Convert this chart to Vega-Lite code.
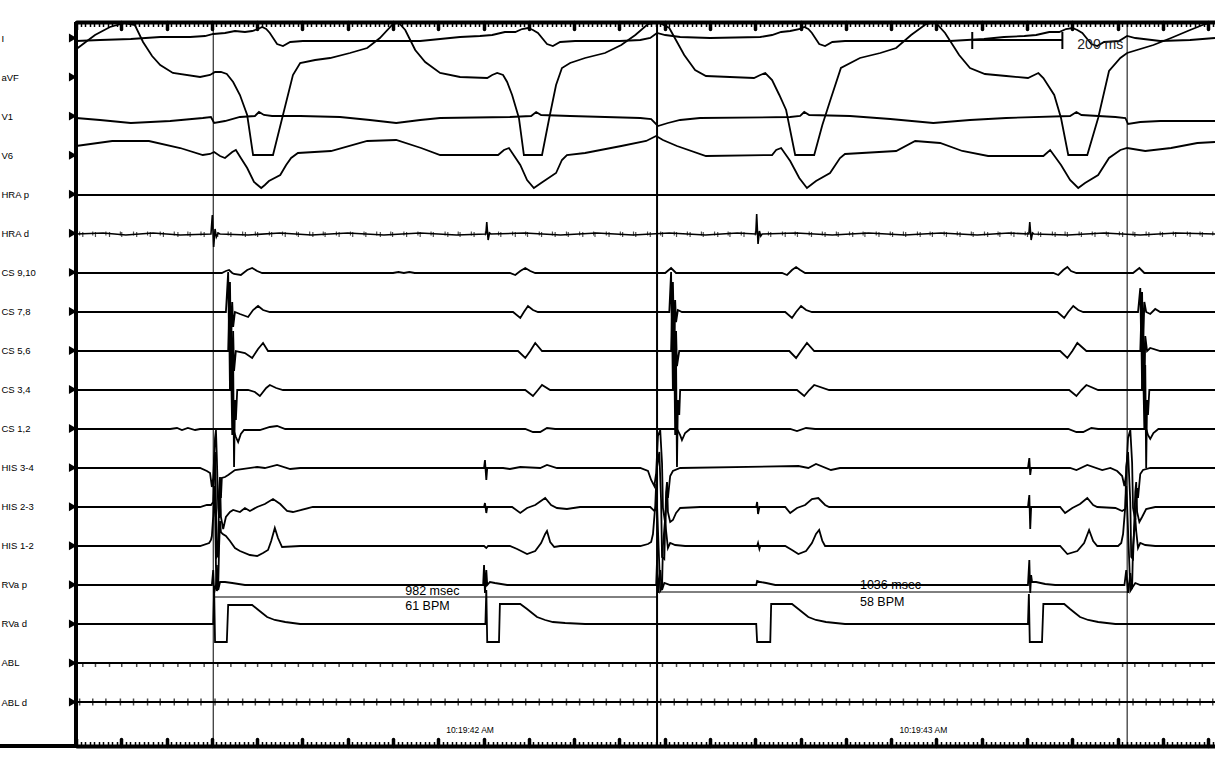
{
"$schema":"https://vega.github.io/schema/vega-lite/v6.json",
"width":1139,"height":724,
"autosize":{"type":"none"},
"padding":{"left":76,"top":22,"right":0,"bottom":22},
"background":"white",
"config":{"view":{"stroke":null},"line":{"color":"black","strokeWidth":1.8},"text":{"font":"Liberation Sans","color":"black"},"tick":{"color":"black"}},
"datasets":{
"spkA":[{"t":15},{"t":43},{"t":74},{"t":101},{"t":134},{"t":164},{"t":193},{"t":225},{"t":252},{"t":283},{"t":313},{"t":342},{"t":374},{"t":401},{"t":432},{"t":462},{"t":491},{"t":523},{"t":550},{"t":581},{"t":611},{"t":640},{"t":672},{"t":699},{"t":730},{"t":760},{"t":789},{"t":821},{"t":848},{"t":879},{"t":909},{"t":938},{"t":970},{"t":997},{"t":1028},{"t":1058},{"t":1087},{"t":1119},{"t":1146},{"t":1177},{"t":1207},{"t":1236},{"t":1268},{"t":1295},{"t":1326},{"t":1356},{"t":1385},{"t":1417},{"t":1444},{"t":1475},{"t":1505},{"t":1534},{"t":1566},{"t":1593},{"t":1624},{"t":1654},{"t":1683},{"t":1715},{"t":1742},{"t":1773},{"t":1803},{"t":1832},{"t":1864},{"t":1891},{"t":1922},{"t":1952},{"t":1981},{"t":2013},{"t":2040},{"t":2071},{"t":2101},{"t":2130},{"t":2162},{"t":2189},{"t":2220},{"t":2250},{"t":2279},{"t":2311},{"t":2338},{"t":2369},{"t":2399},{"t":2428},{"t":2460},{"t":2487}],
"spkB":[{"t":8},{"t":37},{"t":66},{"t":98},{"t":127},{"t":158},{"t":186},{"t":217},{"t":247},{"t":276},{"t":307},{"t":336},{"t":368},{"t":396},{"t":427},{"t":456},{"t":487},{"t":516},{"t":546},{"t":575},{"t":606},{"t":636},{"t":664},{"t":695},{"t":724},{"t":755},{"t":784},{"t":815},{"t":844},{"t":873},{"t":904},{"t":933},{"t":964},{"t":993},{"t":1023},{"t":1052},{"t":1083},{"t":1112},{"t":1143},{"t":1171},{"t":1202},{"t":1231},{"t":1262},{"t":1291},{"t":1321},{"t":1350},{"t":1381},{"t":1410},{"t":1440},{"t":1469},{"t":1500},{"t":1529},{"t":1560},{"t":1588},{"t":1619},{"t":1648},{"t":1679},{"t":1708},{"t":1738},{"t":1767},{"t":1798},{"t":1827},{"t":1858},{"t":1886},{"t":1917},{"t":1946},{"t":1977},{"t":2006},{"t":2036},{"t":2065},{"t":2096},{"t":2125},{"t":2156},{"t":2184},{"t":2215},{"t":2244},{"t":2275},{"t":2304},{"t":2334},{"t":2363},{"t":2394},{"t":2423},{"t":2454},{"t":2482},{"t":2510}]
},
"encoding":{"x":{"field":"t","type":"quantitative","scale":{"domain":[0,2515],"nice":false,"zero":false},"axis":null}},
"resolve":{"scale":{"y":"independent"},"axis":{"x":"independent"}},
"layer":[
{"data":{"values":[{"t":0,"a":-3},{"t":53,"a":-2},{"t":121,"a":-1},{"t":186,"a":1},{"t":252,"a":1},{"t":285,"a":2},{"t":303,"a":4},{"t":329,"a":5},{"t":351,"a":7},{"t":373,"a":6},{"t":389,"a":7},{"t":402,"a":9},{"t":411,"a":11},{"t":420,"a":9},{"t":428,"a":5},{"t":444,"a":-6},{"t":457,"a":-8},{"t":473,"a":-4},{"t":501,"a":-3},{"t":605,"a":-3},{"t":760,"a":-3},{"t":804,"a":-1},{"t":848,"a":1},{"t":892,"a":2},{"t":919,"a":3},{"t":947,"a":6},{"t":970,"a":6},{"t":985,"a":9},{"t":998,"a":10},{"t":1009,"a":8},{"t":1020,"a":5},{"t":1040,"a":-6},{"t":1053,"a":-8},{"t":1069,"a":-4},{"t":1102,"a":-3},{"t":1201,"a":-3},{"t":1246,"a":-2},{"t":1268,"a":0},{"t":1283,"a":5},{"t":1301,"a":3},{"t":1334,"a":1},{"t":1400,"a":0},{"t":1511,"a":1},{"t":1537,"a":3},{"t":1557,"a":6},{"t":1577,"a":7},{"t":1599,"a":9},{"t":1608,"a":11},{"t":1617,"a":9},{"t":1625,"a":5},{"t":1641,"a":-6},{"t":1654,"a":-8},{"t":1670,"a":-4},{"t":1698,"a":-3},{"t":1820,"a":-3},{"t":1930,"a":-3},{"t":2005,"a":-1},{"t":2049,"a":1},{"t":2094,"a":2},{"t":2120,"a":3},{"t":2149,"a":6},{"t":2171,"a":6},{"t":2186,"a":9},{"t":2200,"a":10},{"t":2211,"a":8},{"t":2222,"a":5},{"t":2242,"a":-6},{"t":2255,"a":-8},{"t":2270,"a":-4},{"t":2303,"a":-3},{"t":2321,"a":2},{"t":2339,"a":0},{"t":2394,"a":-3},{"t":2460,"a":-2},{"t":2515,"a":0}]},
"mark":{"type":"line"},
"encoding":{"x":{"field":"t","type":"quantitative","scale":{"domain":[0,2515],"nice":false,"zero":false},"axis":{"orient":"top","tickCount":25,"labels":false,"title":null,"grid":false,"domainWidth":4,"domainColor":"black","tickSize":-7,"tickWidth":3.5,"tickColor":"black","tickCap":"round"}},
"y":{"field":"a","type":"quantitative","scale":{"domain":[-708,16],"nice":false,"zero":false},"axis":null}}},
{"data":{"values":[{"t":0,"a":27},{"t":4,"a":29},{"t":42,"a":42},{"t":75,"a":50},{"t":108,"a":54},{"t":130,"a":52},{"t":148,"a":35},{"t":168,"a":21},{"t":186,"a":12},{"t":214,"a":4},{"t":274,"a":0},{"t":296,"a":2},{"t":307,"a":5},{"t":320,"a":5},{"t":333,"a":3},{"t":347,"a":-5},{"t":362,"a":-18},{"t":378,"a":-38},{"t":391,"a":-78},{"t":435,"a":-78},{"t":457,"a":-38},{"t":479,"a":2},{"t":495,"a":14},{"t":528,"a":17},{"t":561,"a":19},{"t":605,"a":24},{"t":643,"a":29},{"t":671,"a":39},{"t":698,"a":52},{"t":711,"a":55},{"t":727,"a":47},{"t":749,"a":27},{"t":771,"a":15},{"t":804,"a":4},{"t":848,"a":0},{"t":908,"a":-1},{"t":919,"a":2},{"t":930,"a":4},{"t":943,"a":2},{"t":952,"a":-5},{"t":963,"a":-18},{"t":978,"a":-41},{"t":989,"a":-78},{"t":1029,"a":-78},{"t":1045,"a":-41},{"t":1060,"a":-8},{"t":1073,"a":9},{"t":1091,"a":14},{"t":1124,"a":19},{"t":1168,"a":24},{"t":1204,"a":32},{"t":1235,"a":42},{"t":1263,"a":53},{"t":1285,"a":55},{"t":1310,"a":49},{"t":1343,"a":22},{"t":1367,"a":7},{"t":1391,"a":1},{"t":1497,"a":-1},{"t":1511,"a":2},{"t":1522,"a":4},{"t":1537,"a":-3},{"t":1553,"a":-18},{"t":1568,"a":-33},{"t":1588,"a":-78},{"t":1630,"a":-78},{"t":1648,"a":-48},{"t":1665,"a":-24},{"t":1689,"a":9},{"t":1731,"a":19},{"t":1776,"a":24},{"t":1811,"a":29},{"t":1844,"a":42},{"t":1877,"a":53},{"t":1897,"a":55},{"t":1919,"a":44},{"t":1950,"a":22},{"t":1974,"a":9},{"t":2007,"a":3},{"t":2054,"a":1},{"t":2102,"a":-1},{"t":2116,"a":2},{"t":2125,"a":4},{"t":2136,"a":-1},{"t":2160,"a":-18},{"t":2175,"a":-41},{"t":2191,"a":-78},{"t":2233,"a":-78},{"t":2257,"a":-41},{"t":2281,"a":6},{"t":2306,"a":19},{"t":2321,"a":24},{"t":2379,"a":32},{"t":2418,"a":39},{"t":2460,"a":47},{"t":2493,"a":53},{"t":2515,"a":55}]},
"mark":{"type":"line"},
"encoding":{"x":{"field":"t","type":"quantitative","scale":{"domain":[0,2515],"nice":false,"zero":false},"axis":{"orient":"top","tickCount":250,"labels":false,"title":null,"grid":false,"domain":false,"tickSize":-4.5,"tickWidth":1.5,"tickColor":"black"}},
"y":{"field":"a","type":"quantitative","scale":{"domain":[-669,55],"nice":false,"zero":false},"axis":null}}},
{"data":{"values":[{"t":0,"a":-2},{"t":53,"a":-4},{"t":121,"a":-7},{"t":208,"a":-5},{"t":280,"a":-2},{"t":298,"a":-1},{"t":305,"a":-7},{"t":329,"a":-5},{"t":362,"a":-1},{"t":395,"a":0},{"t":404,"a":4},{"t":415,"a":1},{"t":433,"a":0},{"t":495,"a":0},{"t":583,"a":-1},{"t":649,"a":-4},{"t":707,"a":-7},{"t":760,"a":-4},{"t":804,"a":-2},{"t":958,"a":-1},{"t":1005,"a":0},{"t":1016,"a":4},{"t":1027,"a":1},{"t":1091,"a":0},{"t":1246,"a":-2},{"t":1270,"a":-3},{"t":1285,"a":-10},{"t":1307,"a":-7},{"t":1334,"a":-4},{"t":1378,"a":-2},{"t":1577,"a":-1},{"t":1599,"a":0},{"t":1608,"a":4},{"t":1619,"a":1},{"t":1709,"a":0},{"t":1798,"a":-3},{"t":1893,"a":-7},{"t":1974,"a":-4},{"t":2054,"a":-2},{"t":2195,"a":0},{"t":2209,"a":4},{"t":2220,"a":1},{"t":2295,"a":-1},{"t":2317,"a":-2},{"t":2323,"a":-8},{"t":2350,"a":-6},{"t":2394,"a":-5},{"t":2515,"a":-5}]},
"mark":{"type":"line"},
"encoding":{"x":{"field":"t","type":"quantitative","scale":{"domain":[0,2515],"nice":false,"zero":false},"axis":{"orient":"bottom","tickCount":25,"labels":false,"title":null,"grid":false,"domainWidth":4,"domainColor":"black","tickSize":-7,"tickWidth":3.5,"tickColor":"black","tickCap":"round"}},
"y":{"field":"a","type":"quantitative","scale":{"domain":[-630,94],"nice":false,"zero":false},"axis":null}}},
{"data":{"values":[{"t":0,"a":10},{"t":80,"a":15},{"t":161,"a":15},{"t":230,"a":8},{"t":280,"a":1},{"t":296,"a":2},{"t":305,"a":4},{"t":318,"a":0},{"t":329,"a":-2},{"t":345,"a":4},{"t":353,"a":6},{"t":364,"a":-2},{"t":378,"a":-12},{"t":393,"a":-26},{"t":409,"a":-32},{"t":417,"a":-29},{"t":426,"a":-25},{"t":451,"a":-19},{"t":464,"a":-9},{"t":475,"a":-2},{"t":490,"a":3},{"t":563,"a":5},{"t":643,"a":15},{"t":707,"a":16},{"t":762,"a":8},{"t":804,"a":1},{"t":932,"a":1},{"t":945,"a":6},{"t":956,"a":8},{"t":981,"a":-9},{"t":996,"a":-24},{"t":1011,"a":-32},{"t":1027,"a":-27},{"t":1060,"a":-17},{"t":1073,"a":-4},{"t":1084,"a":1},{"t":1124,"a":3},{"t":1204,"a":10},{"t":1259,"a":15},{"t":1281,"a":20},{"t":1296,"a":16},{"t":1327,"a":10},{"t":1391,"a":0},{"t":1537,"a":1},{"t":1546,"a":6},{"t":1557,"a":8},{"t":1577,"a":-5},{"t":1597,"a":-22},{"t":1614,"a":-32},{"t":1634,"a":-25},{"t":1665,"a":-17},{"t":1687,"a":-2},{"t":1698,"a":2},{"t":1811,"a":5},{"t":1853,"a":15},{"t":1908,"a":13},{"t":1957,"a":5},{"t":2014,"a":0},{"t":2136,"a":0},{"t":2151,"a":6},{"t":2175,"a":-9},{"t":2195,"a":-24},{"t":2213,"a":-32},{"t":2228,"a":-27},{"t":2257,"a":-19},{"t":2281,"a":-2},{"t":2306,"a":6},{"t":2321,"a":8},{"t":2361,"a":5},{"t":2418,"a":8},{"t":2476,"a":13},{"t":2515,"a":14}]},
"mark":{"type":"line"},
"encoding":{"x":{"field":"t","type":"quantitative","scale":{"domain":[0,2515],"nice":false,"zero":false},"axis":{"orient":"bottom","tickCount":250,"labels":false,"title":null,"grid":false,"domain":false,"tickSize":-4.5,"tickWidth":1.5,"tickColor":"black"}},
"y":{"field":"a","type":"quantitative","scale":{"domain":[-590,134],"nice":false,"zero":false},"axis":null}}},
{"data":{"values":[{"t":0,"a":0},{"t":2515,"a":0}]},"mark":{"type":"line"},
"encoding":{"y":{"field":"a","type":"quantitative","scale":{"domain":[-551,173],"nice":false,"zero":false},"axis":null}}},
{"data":{"values":[{"t":0,"a":0},{"t":60,"a":1},{"t":110,"a":-1},{"t":170,"a":1},{"t":230,"a":-1},{"t":298,"a":0},{"t":301,"a":19},{"t":304,"a":-13},{"t":307,"a":5},{"t":310,"a":-3},{"t":314,"a":1},{"t":318,"a":0},{"t":380,"a":-1},{"t":450,"a":1},{"t":520,"a":-1},{"t":600,"a":1},{"t":680,"a":-1},{"t":760,"a":1},{"t":840,"a":-1},{"t":905,"a":0},{"t":907,"a":12},{"t":910,"a":-6},{"t":913,"a":1},{"t":916,"a":0},{"t":990,"a":1},{"t":1070,"a":-1},{"t":1150,"a":1},{"t":1230,"a":-1},{"t":1310,"a":1},{"t":1390,"a":-1},{"t":1460,"a":1},{"t":1501,"a":0},{"t":1503,"a":20},{"t":1506,"a":-10},{"t":1509,"a":3},{"t":1512,"a":-2},{"t":1515,"a":0},{"t":1590,"a":1},{"t":1670,"a":-1},{"t":1750,"a":1},{"t":1830,"a":-1},{"t":1910,"a":1},{"t":1990,"a":-1},{"t":2060,"a":1},{"t":2104,"a":0},{"t":2106,"a":12},{"t":2109,"a":-6},{"t":2112,"a":1},{"t":2115,"a":0},{"t":2190,"a":-1},{"t":2270,"a":1},{"t":2350,"a":-1},{"t":2430,"a":1},{"t":2515,"a":0}]},
"mark":{"type":"line","strokeWidth":1.6},
"encoding":{"y":{"field":"a","type":"quantitative","scale":{"domain":[-512,212],"nice":false,"zero":false},"axis":null}}},
{"data":{"name":"spkA"},"mark":{"type":"tick","orient":"vertical","size":5,"thickness":1.2},
"encoding":{"y":{"datum":-0.5,"type":"quantitative","scale":{"domain":[-512,212],"nice":false,"zero":false},"axis":null}}},
{"data":{"name":"spkB"},"mark":{"type":"tick","orient":"vertical","size":4,"thickness":1.2},
"encoding":{"y":{"datum":0.5,"type":"quantitative","scale":{"domain":[-512,212],"nice":false,"zero":false},"axis":null}}},
{"data":{"values":[{"t":0,"a":0},{"t":322,"a":0},{"t":331,"a":2},{"t":338,"a":3},{"t":345,"a":0},{"t":349,"a":-1},{"t":364,"a":-2},{"t":378,"a":3},{"t":389,"a":5},{"t":400,"a":2},{"t":411,"a":0},{"t":700,"a":0},{"t":712,"a":1},{"t":724,"a":0},{"t":736,"a":1},{"t":748,"a":0},{"t":958,"a":0},{"t":970,"a":-2},{"t":981,"a":2},{"t":992,"a":5},{"t":1003,"a":2},{"t":1014,"a":0},{"t":1301,"a":0},{"t":1314,"a":5},{"t":1325,"a":0},{"t":1559,"a":0},{"t":1570,"a":-2},{"t":1581,"a":3},{"t":1590,"a":6},{"t":1599,"a":3},{"t":1610,"a":0},{"t":2158,"a":0},{"t":2169,"a":-2},{"t":2180,"a":3},{"t":2189,"a":6},{"t":2197,"a":2},{"t":2209,"a":0},{"t":2334,"a":0},{"t":2348,"a":5},{"t":2359,"a":0},{"t":2515,"a":0}]},
"mark":{"type":"line"},
"encoding":{"y":{"field":"a","type":"quantitative","scale":{"domain":[-473,251],"nice":false,"zero":false},"axis":null}}},
{"data":{"values":[{"t":0,"a":0},{"t":331,"a":0},{"t":336,"a":40},{"t":338,"a":-30},{"t":340,"a":30},{"t":342,"a":-38},{"t":345,"a":10},{"t":347,"a":-15},{"t":351,"a":0},{"t":362,"a":-2},{"t":380,"a":-5},{"t":391,"a":2},{"t":402,"a":6},{"t":413,"a":2},{"t":428,"a":0},{"t":965,"a":0},{"t":981,"a":-6},{"t":989,"a":0},{"t":998,"a":6},{"t":1009,"a":2},{"t":1020,"a":0},{"t":1310,"a":0},{"t":1314,"a":40},{"t":1316,"a":-32},{"t":1318,"a":30},{"t":1321,"a":-38},{"t":1323,"a":12},{"t":1325,"a":-10},{"t":1329,"a":2},{"t":1338,"a":0},{"t":1566,"a":0},{"t":1581,"a":-6},{"t":1590,"a":0},{"t":1601,"a":6},{"t":1612,"a":2},{"t":1625,"a":0},{"t":2167,"a":0},{"t":2182,"a":-6},{"t":2191,"a":0},{"t":2202,"a":6},{"t":2213,"a":2},{"t":2224,"a":0},{"t":2345,"a":0},{"t":2350,"a":24},{"t":2352,"a":-30},{"t":2354,"a":20},{"t":2356,"a":-38},{"t":2359,"a":10},{"t":2363,"a":0},{"t":2372,"a":-2},{"t":2383,"a":3},{"t":2394,"a":0},{"t":2515,"a":0}]},
"mark":{"type":"line"},
"encoding":{"y":{"field":"a","type":"quantitative","scale":{"domain":[-434,290],"nice":false,"zero":false},"axis":null}}},
{"data":{"values":[{"t":0,"a":0},{"t":336,"a":0},{"t":338,"a":38},{"t":340,"a":-40},{"t":342,"a":35},{"t":345,"a":-48},{"t":347,"a":20},{"t":349,"a":-20},{"t":353,"a":0},{"t":373,"a":-2},{"t":389,"a":-7},{"t":402,"a":2},{"t":413,"a":8},{"t":424,"a":0},{"t":976,"a":0},{"t":992,"a":-7},{"t":1003,"a":0},{"t":1014,"a":8},{"t":1029,"a":0},{"t":1314,"a":0},{"t":1316,"a":38},{"t":1318,"a":-40},{"t":1321,"a":35},{"t":1323,"a":-48},{"t":1325,"a":20},{"t":1327,"a":-15},{"t":1332,"a":0},{"t":1575,"a":0},{"t":1590,"a":-7},{"t":1601,"a":0},{"t":1614,"a":8},{"t":1630,"a":0},{"t":2173,"a":0},{"t":2189,"a":-7},{"t":2200,"a":0},{"t":2211,"a":8},{"t":2231,"a":0},{"t":2350,"a":0},{"t":2352,"a":30},{"t":2354,"a":-38},{"t":2356,"a":28},{"t":2359,"a":-48},{"t":2361,"a":15},{"t":2365,"a":0},{"t":2372,"a":3},{"t":2394,"a":0},{"t":2515,"a":0}]},
"mark":{"type":"line"},
"encoding":{"y":{"field":"a","type":"quantitative","scale":{"domain":[-395,329],"nice":false,"zero":false},"axis":null}}},
{"data":{"values":[{"t":0,"a":0},{"t":340,"a":0},{"t":342,"a":40},{"t":345,"a":-45},{"t":347,"a":30},{"t":349,"a":-77},{"t":351,"a":-10},{"t":353,"a":-30},{"t":356,"a":0},{"t":380,"a":0},{"t":395,"a":-2},{"t":406,"a":-6},{"t":420,"a":2},{"t":428,"a":5},{"t":442,"a":2},{"t":457,"a":0},{"t":992,"a":0},{"t":1009,"a":-6},{"t":1020,"a":0},{"t":1029,"a":5},{"t":1047,"a":0},{"t":1318,"a":0},{"t":1321,"a":40},{"t":1323,"a":-45},{"t":1325,"a":30},{"t":1327,"a":-77},{"t":1329,"a":-10},{"t":1332,"a":-25},{"t":1334,"a":0},{"t":1592,"a":0},{"t":1608,"a":-6},{"t":1619,"a":0},{"t":1630,"a":5},{"t":1663,"a":0},{"t":2193,"a":0},{"t":2209,"a":-6},{"t":2220,"a":0},{"t":2231,"a":5},{"t":2257,"a":0},{"t":2354,"a":0},{"t":2356,"a":30},{"t":2359,"a":-40},{"t":2361,"a":25},{"t":2363,"a":-78},{"t":2365,"a":-10},{"t":2367,"a":-25},{"t":2370,"a":0},{"t":2515,"a":0}]},
"mark":{"type":"line"},
"encoding":{"y":{"field":"a","type":"quantitative","scale":{"domain":[-356,368],"nice":false,"zero":false},"axis":null}}},
{"data":{"values":[{"t":0,"a":0},{"t":208,"a":0},{"t":223,"a":1},{"t":234,"a":-1},{"t":247,"a":1},{"t":263,"a":-1},{"t":274,"a":0},{"t":347,"a":0},{"t":353,"a":-8},{"t":358,"a":-13},{"t":364,"a":-5},{"t":371,"a":-1},{"t":406,"a":-1},{"t":428,"a":2},{"t":444,"a":3},{"t":462,"a":0},{"t":992,"a":0},{"t":1009,"a":-3},{"t":1025,"a":-3},{"t":1040,"a":1},{"t":1058,"a":0},{"t":1327,"a":0},{"t":1334,"a":-6},{"t":1338,"a":-11},{"t":1345,"a":-4},{"t":1356,"a":0},{"t":1577,"a":0},{"t":1592,"a":-2},{"t":1612,"a":1},{"t":1632,"a":0},{"t":2191,"a":0},{"t":2209,"a":-3},{"t":2224,"a":-3},{"t":2242,"a":1},{"t":2257,"a":0},{"t":2363,"a":0},{"t":2367,"a":-6},{"t":2372,"a":-10},{"t":2379,"a":-4},{"t":2390,"a":0},{"t":2515,"a":0}]},
"mark":{"type":"line"},
"encoding":{"y":{"field":"a","type":"quantitative","scale":{"domain":[-317,407],"nice":false,"zero":false},"axis":null}}},
{"data":{"values":[{"t":0,"a":0},{"t":274,"a":0},{"t":289,"a":-3},{"t":296,"a":-5},{"t":300,"a":-19},{"t":303,"a":-10},{"t":307,"a":30},{"t":309,"a":38},{"t":311,"a":10},{"t":314,"a":-40},{"t":316,"a":-50},{"t":318,"a":-15},{"t":320,"a":-30},{"t":322,"a":-10},{"t":329,"a":-9},{"t":336,"a":-7},{"t":351,"a":-2},{"t":400,"a":1},{"t":417,"a":0},{"t":444,"a":3},{"t":473,"a":-1},{"t":495,"a":0},{"t":901,"a":0},{"t":903,"a":8},{"t":906,"a":-12},{"t":908,"a":0},{"t":943,"a":0},{"t":958,"a":-1},{"t":981,"a":1},{"t":1025,"a":0},{"t":1040,"a":3},{"t":1062,"a":0},{"t":1246,"a":0},{"t":1263,"a":-3},{"t":1270,"a":-12},{"t":1277,"a":-18},{"t":1281,"a":-5},{"t":1285,"a":32},{"t":1290,"a":38},{"t":1294,"a":5},{"t":1296,"a":-40},{"t":1301,"a":-55},{"t":1305,"a":-20},{"t":1307,"a":-30},{"t":1312,"a":-8},{"t":1318,"a":-3},{"t":1334,"a":0},{"t":1595,"a":2},{"t":1617,"a":0},{"t":1634,"a":4},{"t":1667,"a":-2},{"t":1687,"a":0},{"t":2102,"a":0},{"t":2105,"a":10},{"t":2107,"a":-7},{"t":2109,"a":0},{"t":2195,"a":0},{"t":2209,"a":-2},{"t":2233,"a":3},{"t":2266,"a":-2},{"t":2284,"a":0},{"t":2299,"a":-3},{"t":2310,"a":-8},{"t":2315,"a":-18},{"t":2319,"a":-6},{"t":2323,"a":30},{"t":2328,"a":38},{"t":2332,"a":5},{"t":2334,"a":-40},{"t":2339,"a":-52},{"t":2343,"a":-20},{"t":2345,"a":-30},{"t":2350,"a":-6},{"t":2356,"a":-2},{"t":2372,"a":0},{"t":2515,"a":0}]},
"mark":{"type":"line"},
"encoding":{"y":{"field":"a","type":"quantitative","scale":{"domain":[-278,446],"nice":false,"zero":false},"axis":null}}},
{"data":{"values":[{"t":0,"a":0},{"t":274,"a":0},{"t":289,"a":2},{"t":298,"a":2},{"t":303,"a":5},{"t":305,"a":45},{"t":307,"a":55},{"t":309,"a":5},{"t":311,"a":-50},{"t":314,"a":-48},{"t":316,"a":15},{"t":318,"a":30},{"t":320,"a":-10},{"t":325,"a":-22},{"t":331,"a":-10},{"t":340,"a":-5},{"t":347,"a":-3},{"t":362,"a":-5},{"t":373,"a":-1},{"t":384,"a":-4},{"t":400,"a":0},{"t":417,"a":3},{"t":435,"a":8},{"t":451,"a":3},{"t":466,"a":-4},{"t":479,"a":-5},{"t":523,"a":0},{"t":901,"a":0},{"t":903,"a":4},{"t":906,"a":-6},{"t":908,"a":0},{"t":963,"a":0},{"t":981,"a":-6},{"t":996,"a":-1},{"t":1014,"a":2},{"t":1036,"a":9},{"t":1049,"a":2},{"t":1062,"a":-1},{"t":1084,"a":-2},{"t":1113,"a":0},{"t":1268,"a":0},{"t":1277,"a":-4},{"t":1281,"a":-2},{"t":1283,"a":40},{"t":1288,"a":55},{"t":1292,"a":5},{"t":1294,"a":-50},{"t":1299,"a":-52},{"t":1303,"a":15},{"t":1305,"a":25},{"t":1307,"a":-5},{"t":1312,"a":-15},{"t":1318,"a":-13},{"t":1325,"a":-6},{"t":1334,"a":-1},{"t":1378,"a":0},{"t":1502,"a":0},{"t":1504,"a":5},{"t":1506,"a":-7},{"t":1509,"a":0},{"t":1566,"a":0},{"t":1577,"a":-6},{"t":1592,"a":-1},{"t":1610,"a":2},{"t":1625,"a":8},{"t":1639,"a":9},{"t":1654,"a":2},{"t":1663,"a":0},{"t":2102,"a":0},{"t":2105,"a":12},{"t":2107,"a":-22},{"t":2109,"a":0},{"t":2173,"a":0},{"t":2184,"a":-6},{"t":2200,"a":-1},{"t":2217,"a":3},{"t":2233,"a":9},{"t":2246,"a":2},{"t":2255,"a":0},{"t":2295,"a":-1},{"t":2310,"a":-4},{"t":2317,"a":-2},{"t":2319,"a":40},{"t":2323,"a":55},{"t":2328,"a":5},{"t":2330,"a":-50},{"t":2334,"a":-52},{"t":2339,"a":15},{"t":2341,"a":25},{"t":2343,"a":-5},{"t":2348,"a":-15},{"t":2354,"a":-10},{"t":2363,"a":-2},{"t":2383,"a":0},{"t":2515,"a":0}]},
"mark":{"type":"line"},
"encoding":{"y":{"field":"a","type":"quantitative","scale":{"domain":[-239,485],"nice":false,"zero":false},"axis":null}}},
{"data":{"values":[{"t":0,"a":0},{"t":274,"a":0},{"t":294,"a":3},{"t":298,"a":6},{"t":300,"a":10},{"t":303,"a":30},{"t":305,"a":60},{"t":307,"a":40},{"t":309,"a":-20},{"t":311,"a":-45},{"t":314,"a":-40},{"t":316,"a":0},{"t":318,"a":25},{"t":320,"a":14},{"t":324,"a":12},{"t":331,"a":10},{"t":340,"a":5},{"t":351,"a":-2},{"t":362,"a":-5},{"t":384,"a":-9},{"t":400,"a":-10},{"t":413,"a":-7},{"t":424,"a":-4},{"t":431,"a":5},{"t":439,"a":18},{"t":446,"a":8},{"t":455,"a":-1},{"t":495,"a":0},{"t":901,"a":0},{"t":906,"a":-2},{"t":910,"a":0},{"t":958,"a":0},{"t":974,"a":-3},{"t":996,"a":-8},{"t":1014,"a":-5},{"t":1027,"a":3},{"t":1036,"a":12},{"t":1040,"a":15},{"t":1047,"a":4},{"t":1056,"a":-1},{"t":1069,"a":0},{"t":1246,"a":0},{"t":1263,"a":2},{"t":1270,"a":4},{"t":1274,"a":12},{"t":1279,"a":40},{"t":1281,"a":62},{"t":1283,"a":40},{"t":1288,"a":-20},{"t":1290,"a":-45},{"t":1294,"a":-42},{"t":1296,"a":0},{"t":1301,"a":28},{"t":1303,"a":15},{"t":1307,"a":-2},{"t":1312,"a":3},{"t":1323,"a":1},{"t":1345,"a":0},{"t":1504,"a":0},{"t":1506,"a":3},{"t":1509,"a":-3},{"t":1511,"a":0},{"t":1566,"a":0},{"t":1581,"a":-4},{"t":1595,"a":-8},{"t":1612,"a":-5},{"t":1625,"a":3},{"t":1634,"a":12},{"t":1641,"a":16},{"t":1648,"a":5},{"t":1654,"a":0},{"t":2173,"a":0},{"t":2189,"a":-8},{"t":2211,"a":-5},{"t":2226,"a":3},{"t":2237,"a":16},{"t":2246,"a":5},{"t":2255,"a":0},{"t":2301,"a":0},{"t":2308,"a":3},{"t":2312,"a":12},{"t":2317,"a":40},{"t":2319,"a":60},{"t":2321,"a":40},{"t":2326,"a":-20},{"t":2328,"a":-45},{"t":2332,"a":-42},{"t":2334,"a":0},{"t":2339,"a":28},{"t":2341,"a":15},{"t":2345,"a":-2},{"t":2350,"a":3},{"t":2361,"a":1},{"t":2383,"a":0},{"t":2515,"a":0}]},
"mark":{"type":"line"},
"encoding":{"y":{"field":"a","type":"quantitative","scale":{"domain":[-200,524],"nice":false,"zero":false},"axis":null}}},
{"data":{"values":[{"t":0,"a":0},{"t":300,"a":0},{"t":303,"a":15},{"t":305,"a":-8},{"t":309,"a":0},{"t":311,"a":20},{"t":314,"a":-5},{"t":318,"a":3},{"t":329,"a":3},{"t":345,"a":2},{"t":373,"a":0},{"t":899,"a":0},{"t":901,"a":20},{"t":903,"a":-8},{"t":906,"a":15},{"t":908,"a":0},{"t":914,"a":3},{"t":925,"a":2},{"t":952,"a":0},{"t":1281,"a":0},{"t":1283,"a":25},{"t":1285,"a":-8},{"t":1290,"a":15},{"t":1294,"a":-5},{"t":1299,"a":2},{"t":1312,"a":0},{"t":1502,"a":0},{"t":1504,"a":4},{"t":1511,"a":3},{"t":1524,"a":2},{"t":1544,"a":0},{"t":2102,"a":0},{"t":2105,"a":25},{"t":2107,"a":-8},{"t":2109,"a":10},{"t":2111,"a":3},{"t":2120,"a":3},{"t":2140,"a":1},{"t":2162,"a":0},{"t":2315,"a":0},{"t":2319,"a":15},{"t":2323,"a":-8},{"t":2328,"a":12},{"t":2332,"a":-3},{"t":2339,"a":2},{"t":2350,"a":0},{"t":2515,"a":0}]},
"mark":{"type":"line"},
"encoding":{"y":{"field":"a","type":"quantitative","scale":{"domain":[-161,563],"nice":false,"zero":false},"axis":null}}},
{"data":{"values":[{"t":0,"a":0},{"t":303,"a":0},{"t":305,"a":35},{"t":307,"a":-18},{"t":333,"a":-18},{"t":336,"a":19},{"t":389,"a":19},{"t":400,"a":15},{"t":411,"a":11},{"t":422,"a":7},{"t":439,"a":4},{"t":462,"a":2},{"t":495,"a":0},{"t":904,"a":0},{"t":906,"a":34},{"t":908,"a":-18},{"t":934,"a":-18},{"t":936,"a":20},{"t":981,"a":20},{"t":996,"a":15},{"t":1007,"a":11},{"t":1018,"a":7},{"t":1036,"a":4},{"t":1053,"a":2},{"t":1080,"a":1},{"t":1124,"a":0},{"t":1502,"a":0},{"t":1504,"a":-18},{"t":1533,"a":-18},{"t":1535,"a":20},{"t":1581,"a":20},{"t":1595,"a":15},{"t":1606,"a":11},{"t":1617,"a":7},{"t":1634,"a":4},{"t":1656,"a":2},{"t":1698,"a":0},{"t":2102,"a":0},{"t":2104,"a":30},{"t":2106,"a":-18},{"t":2133,"a":-18},{"t":2136,"a":20},{"t":2182,"a":20},{"t":2195,"a":15},{"t":2206,"a":11},{"t":2217,"a":7},{"t":2235,"a":4},{"t":2257,"a":2},{"t":2295,"a":0},{"t":2515,"a":0}]},
"mark":{"type":"line"},
"encoding":{"y":{"field":"a","type":"quantitative","scale":{"domain":[-122,602],"nice":false,"zero":false},"axis":null}}},
{"data":{"values":[{"t":0,"a":0},{"t":2515,"a":0}]},"mark":{"type":"line","strokeWidth":2},
"encoding":{"y":{"field":"a","type":"quantitative","scale":{"domain":[-83,641],"nice":false,"zero":false},"axis":null}}},
{"data":{"name":"spkA"},"mark":{"type":"tick","orient":"vertical","size":5,"thickness":1.5},
"encoding":{"y":{"datum":-1.5,"type":"quantitative","scale":{"domain":[-83,641],"nice":false,"zero":false},"axis":null}}},
{"data":{"values":[{"t":0,"a":0},{"t":2515,"a":0}]},"mark":{"type":"line","strokeWidth":2},
"encoding":{"y":{"field":"a","type":"quantitative","scale":{"domain":[-44,680],"nice":false,"zero":false},"axis":null}}},
{"data":{"name":"spkB"},"mark":{"type":"tick","orient":"vertical","size":7,"thickness":1.5},
"encoding":{"y":{"datum":0,"type":"quantitative","scale":{"domain":[-44,680],"nice":false,"zero":false},"axis":null}}},
{"data":{"values":[{"c":"I","t":-7},{"c":"aVF","t":-7},{"c":"V1","t":-7},{"c":"V6","t":-7},{"c":"HRA p","t":-7},{"c":"HRA d","t":-7},{"c":"CS 9,10","t":-7},{"c":"CS 7,8","t":-7},{"c":"CS 5,6","t":-7},{"c":"CS 3,4","t":-7},{"c":"CS 1,2","t":-7},{"c":"HIS 3-4","t":-7},{"c":"HIS 2-3","t":-7},{"c":"HIS 1-2","t":-7},{"c":"RVa p","t":-7},{"c":"RVa d","t":-7},{"c":"ABL","t":-7},{"c":"ABL d","t":-7}]},
"mark":{"type":"point","shape":"triangle-right","filled":true,"color":"black","size":80,"opacity":1},
"encoding":{"y":{"field":"c","type":"nominal","sort":null,"scale":{"type":"point","padding":0,"domain":["I","aVF","V1","V6","HRA p","HRA d","CS 9,10","CS 7,8","CS 5,6","CS 3,4","CS 1,2","HIS 3-4","HIS 2-3","HIS 1-2","RVa p","RVa d","ABL","ABL d"],"range":[16,680]},
"axis":{"orient":"left","title":null,"domain":false,"ticks":true,"tickSize":0,"tickWidth":0,"labelAlign":"left","labelBaseline":"middle","labelPadding":75,"labelFont":"Liberation Sans","labelFontSize":9.5,"labelColor":"black","grid":false}}}},
{"data":{"values":[{"t":0}]},"mark":{"type":"rule","strokeWidth":4,"color":"black"},"encoding":{}},
{"data":{"values":[{"t":-168,"t2":0}]},"mark":{"type":"rule","strokeWidth":4,"color":"black"},
"encoding":{"x2":{"field":"t2"},"y":{"datum":0,"type":"quantitative","scale":{"domain":[0,724],"nice":false,"zero":false},"axis":null}}},
{"data":{"values":[{"t":303},{"t":2321}]},"mark":{"type":"rule","strokeWidth":1,"color":"black"},"encoding":{}},
{"data":{"values":[{"t":1283}]},"mark":{"type":"rule","strokeWidth":2,"color":"black"},"encoding":{}},
{"data":{"values":[{"t":303,"t2":1283,"a":-12},{"t":1283,"t2":2321,"a":-7}]},"mark":{"type":"rule","strokeWidth":1,"color":"black"},
"encoding":{"x2":{"field":"t2"},"y":{"field":"a","type":"quantitative","scale":{"domain":[-161,563],"nice":false,"zero":false},"axis":null}}},
{"data":{"values":[{"t":727,"a":-6,"label":"982 msec"},{"t":727,"a":-21,"label":"61 BPM"},{"t":1731,"a":0,"label":"1036 msec"},{"t":1731,"a":-17,"label":"58 BPM"}]},
"mark":{"type":"text","align":"left","baseline":"middle","fontSize":12.5,"font":"Liberation Sans"},
"encoding":{"text":{"field":"label"},"y":{"field":"a","type":"quantitative","scale":{"domain":[-161,563],"nice":false,"zero":false},"axis":null}}},
{"data":{"values":[{"t":1979,"t2":2178,"a":-2}]},"mark":{"type":"rule","strokeWidth":2,"color":"black"},
"encoding":{"x2":{"field":"t2"},"y":{"field":"a","type":"quantitative","scale":{"domain":[-708,16],"nice":false,"zero":false},"axis":null}}},
{"data":{"values":[{"t":1979,"a":6,"a2":-11},{"t":2178,"a":6,"a2":-11}]},"mark":{"type":"rule","strokeWidth":2,"color":"black"},
"encoding":{"y":{"field":"a","type":"quantitative","scale":{"domain":[-708,16],"nice":false,"zero":false},"axis":null},"y2":{"field":"a2"}}},
{"data":{"values":[{"t":2211,"a":-7,"label":"200 ms"}]},
"mark":{"type":"text","align":"left","baseline":"middle","fontSize":14,"font":"Liberation Sans","color":"#222222"},
"encoding":{"text":{"field":"label"},"y":{"field":"a","type":"quantitative","scale":{"domain":[-708,16],"nice":false,"zero":false},"axis":null}}},
{"data":{"values":[{"t":870,"a":-28,"label":"10:19:42 AM"},{"t":1871,"a":-28,"label":"10:19:43 AM"}]},
"mark":{"type":"text","align":"center","baseline":"middle","fontSize":8.5,"font":"Liberation Sans"},
"encoding":{"text":{"field":"label"},"y":{"field":"a","type":"quantitative","scale":{"domain":[-44,680],"nice":false,"zero":false},"axis":null}}}
]
}
